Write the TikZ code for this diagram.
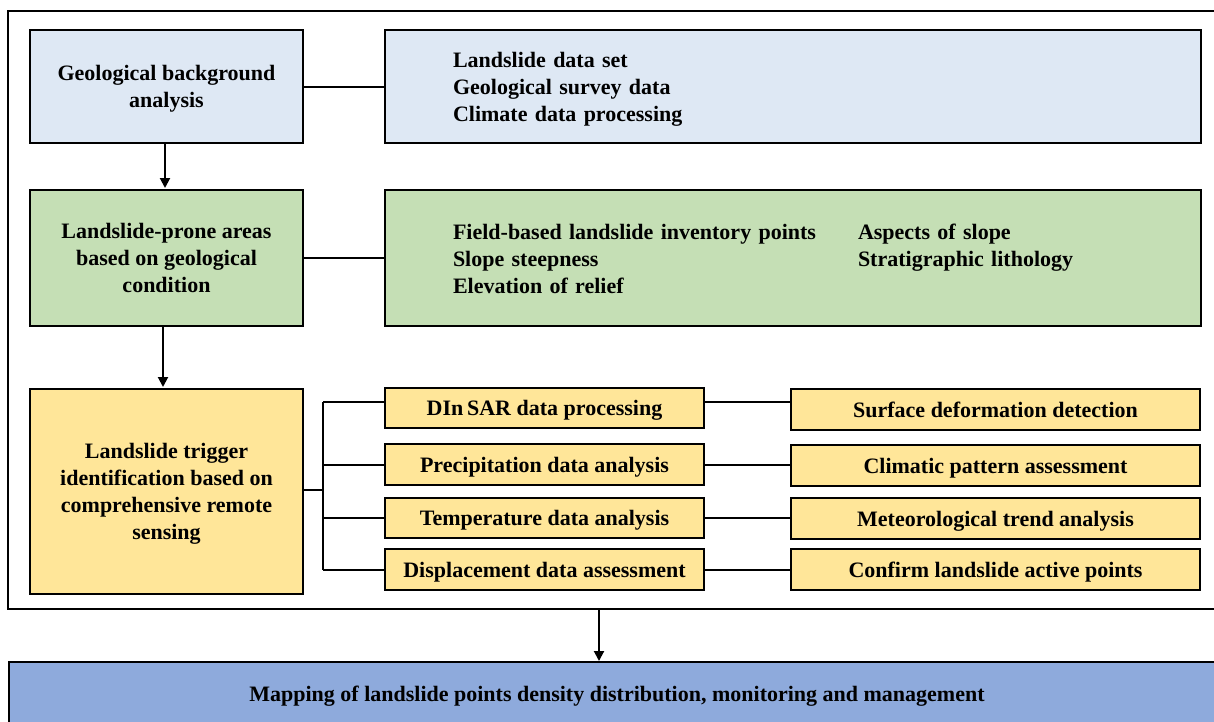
\documentclass[tikz,border=0pt]{standalone}
\usepackage{fontspec}
\setmainfont{Liberation Serif}
\usetikzlibrary{arrows.meta,positioning,calc}
\definecolor{cblue}{HTML}{DEE8F4}
\definecolor{cgreen}{HTML}{C5DFB5}
\definecolor{cyellow}{HTML}{FFE699}
\definecolor{cbottom}{HTML}{8EAADC}
\begin{document}
\begin{tikzpicture}[x=1pt,y=-1pt,
  every node/.style={font=\fontsize{22}{27}\selectfont\bfseries},
  box/.style={draw=black,line width=2pt,anchor=north west,inner sep=0pt,align=center,text depth=0pt},
  widebox/.style={draw=black,line width=2pt,anchor=north west,inner sep=0pt,align=left,text width=680pt,inner xsep=68pt,minimum width=816pt},
  conn/.style={line width=2pt},
  arr/.style={line width=2pt,-{Triangle[length=10pt,width=10pt]}}]
\useasboundingbox (0,0) rectangle (1214,721);
% outer frame
\draw[line width=2pt] (8,11) rectangle (1224,609);
% row 1
\node[box,fill=cblue,minimum width=273pt,minimum height=113pt] (g1) at (29,29) {Geological background\\analysis};
\node[widebox,fill=cblue,minimum height=113pt] (g1r) at (384,29)
  {\raisebox{-3pt}[\height][\depth]{\begin{tabular}{@{}l@{}}Landslide data set\\Geological survey data\\Climate data processing\end{tabular}}};
% row 2
\node[box,fill=cgreen,minimum width=273pt,minimum height=136pt] (g2) at (29,189) {Landslide-prone areas\\based on geological\\condition};
\node[widebox,fill=cgreen,minimum height=136pt] (g2r) at (384,189)
  {\raisebox{-3pt}[\height][\depth]{\begin{tabular}{@{}p{405pt}@{}l@{}}Field-based landslide inventory points & Aspects of slope\\Slope steepness & Stratigraphic lithology\\Elevation of relief & \end{tabular}}};
% row 3
\node[box,fill=cyellow,minimum width=273pt,minimum height=205pt] (g3) at (29,388) {Landslide trigger\\identification based on\\comprehensive remote\\sensing};
\node[box,fill=cyellow,minimum width=319pt,minimum height=40pt] (m1) at (384,387) {DIn\,SAR data processing};
\node[box,fill=cyellow,minimum width=319pt,minimum height=41pt] (m2) at (384,443) {Precipitation data analysis};
\node[box,fill=cyellow,minimum width=319pt,minimum height=40pt] (m3) at (384,497) {Temperature data analysis};
\node[box,fill=cyellow,minimum width=319pt,minimum height=41pt] (m4) at (384,548) {Displacement data assessment};
\node[box,fill=cyellow,minimum width=409pt,minimum height=41pt] (r1) at (790,388) {Surface deformation detection};
\node[box,fill=cyellow,minimum width=409pt,minimum height=41pt] (r2) at (790,444) {Climatic pattern assessment};
\node[box,fill=cyellow,minimum width=409pt,minimum height=41pt] (r3) at (790,497) {Meteorological trend analysis};
\node[box,fill=cyellow,minimum width=409pt,minimum height=41pt] (r4) at (790,548) {Confirm landslide active points};
% bottom
\node[box,fill=cbottom,minimum width=1216pt,minimum height=75pt] (bot) at (8,661) {\raisebox{11pt}{Mapping of landslide points density distribution, monitoring and management}};
% connectors
\draw[conn] (g1.east) -- (g1r.west);
\draw[conn] (g2.east) -- (g2r.west);
\draw[arr] (165,142) -- (165,188);
\draw[arr] (163,325) -- (163,387);
\coordinate (tr) at (323,490);
\coordinate (out) at (599,609);
\draw[conn] (g3.east |- tr) -- (tr);
\draw[conn] ([yshift=6pt]m1.west -| tr) -- (m4.west -| tr);
\draw[conn] ([yshift=6pt]m1.west -| tr) -- ([yshift=6pt]m1.west);
\draw[conn] (m2.west -| tr) -- (m2.west);
\draw[conn] (m3.west -| tr) -- (m3.west);
\draw[conn] (m4.west -| tr) -- (m4.west);
\draw[conn] ([yshift=6pt]m1.east) -- ([yshift=6pt]m1.east -| r1.west);
\draw[conn] (m2.east) -- (m2.east -| r2.west);
\draw[conn] (m3.east) -- (m3.east -| r3.west);
\draw[conn] (m4.east) -- (m4.east -| r4.west);
\draw[arr] (out) -- (out |- bot.north);
\end{tikzpicture}
\end{document}
